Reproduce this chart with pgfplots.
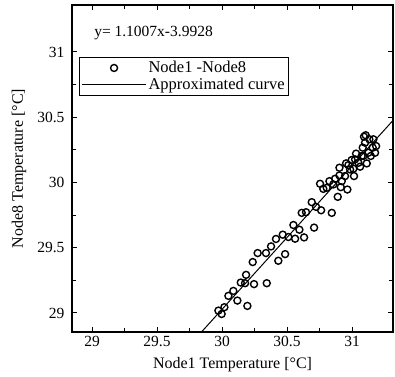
\documentclass[border=0pt]{standalone}
\usepackage{fontspec}
\setmainfont{Liberation Serif}
\usepackage{pgfplots}
\pgfplotsset{compat=1.18}
\begin{document}
\begin{tikzpicture}
\path[use as bounding box] (-72pt,-44pt) rectangle (323pt,332pt);
\begin{axis}[
  scale only axis, width=321pt, height=327pt,
  xmin=28.846, xmax=31.315, ymin=28.854, ymax=31.36,
  xtick={29,29.5,30,30.5,31}, ytick={29,29.5,30,30.5,31},
  xticklabels={29,29.5,30,30.5,31}, yticklabels={29,29.5,30,30.5,31},
  minor tick num=1,
  tick align=inside, major tick length=5pt, minor tick length=4pt,
  axis line style={line width=1.3pt},
  every tick/.style={black, line width=1pt},
  tick label style={font=\fontsize{15.5}{18}\selectfont},
  xticklabel style={yshift=-1pt},
  yticklabel style={xshift=-4pt},
  every axis x label/.style={at={(axis description cs:0.5,-0.10)}, anchor=center, font=\fontsize{16}{19}\selectfont},
  every axis y label/.style={at={(axis description cs:-0.165,0.5)}, rotate=90, anchor=center, font=\fontsize{16}{19}\selectfont},
  xlabel={Node1 Temperature [°C]},
  ylabel={Node8 Temperature [°C]},
  legend image code/.code={\draw[mark repeat=2,mark phase=2,#1] plot coordinates {(0pt,0pt)(32pt,0pt)(64pt,0pt)};},
  legend style={at={(axis description cs:0.022,0.841)}, anchor=north west, draw=black, line width=1pt,
    font=\fontsize{16.5}{18.5}\selectfont, inner sep=2pt, row sep=0pt, cells={anchor=west}},
]
\addplot[only marks, mark=o, mark size=3.5pt, line width=1.4pt, black]
coordinates {
(29.972,29.018) (29.997,28.992) (30.018,29.044) (30.049,29.131) (30.087,29.169)
(30.118,29.095) (30.144,29.233) (30.185,29.292) (30.195,29.054) (30.246,29.221)
(30.177,29.228) (30.236,29.390) (30.274,29.459) (30.338,29.459) (30.344,29.228)
(30.377,29.510) (30.433,29.400) (30.415,29.567) (30.485,29.451) (30.467,29.600)
(30.510,29.582) (30.549,29.674) (30.562,29.569) (30.595,29.638) (30.613,29.767)
(30.631,29.579) (30.646,29.772) (30.690,29.849) (30.708,29.654) (30.723,29.813)
(30.762,29.787) (30.754,29.990) (30.779,29.951) (30.805,29.959) (30.826,30.010)
(30.844,29.767) (30.856,29.985) (30.890,29.890) (30.903,30.054) (30.903,30.113)
(30.913,29.964) (30.946,30.049) (30.954,30.146) (30.964,29.946) (30.972,30.133)
(30.997,30.172) (31.010,30.105) (31.015,30.049) (31.031,30.221) (31.049,30.151)
(31.062,30.121) (31.074,30.203) (31.082,30.267) (31.092,30.351) (31.105,30.362)
(31.113,30.146) (31.126,30.228) (31.133,30.331) (31.144,30.203) (31.159,30.267)
(31.164,30.331) (31.177,30.228) (31.185,30.279) (30.869,30.028) (30.921,30.010)
(30.985,30.100) (31.023,30.177) (31.087,30.203) (31.100,30.305)
};
\addlegendentry{Node1 -Node8}
\addplot[black, line width=1pt]
coordinates {(29.8,28.808) (31.4,30.569)};
\addlegendentry{Approximated curve}
\node[anchor=west, font=\fontsize{15.5}{18}\selectfont] at (axis cs:28.99,31.146) {y= 1.1007x-3.9928};
\end{axis}
\end{tikzpicture}
\end{document}
